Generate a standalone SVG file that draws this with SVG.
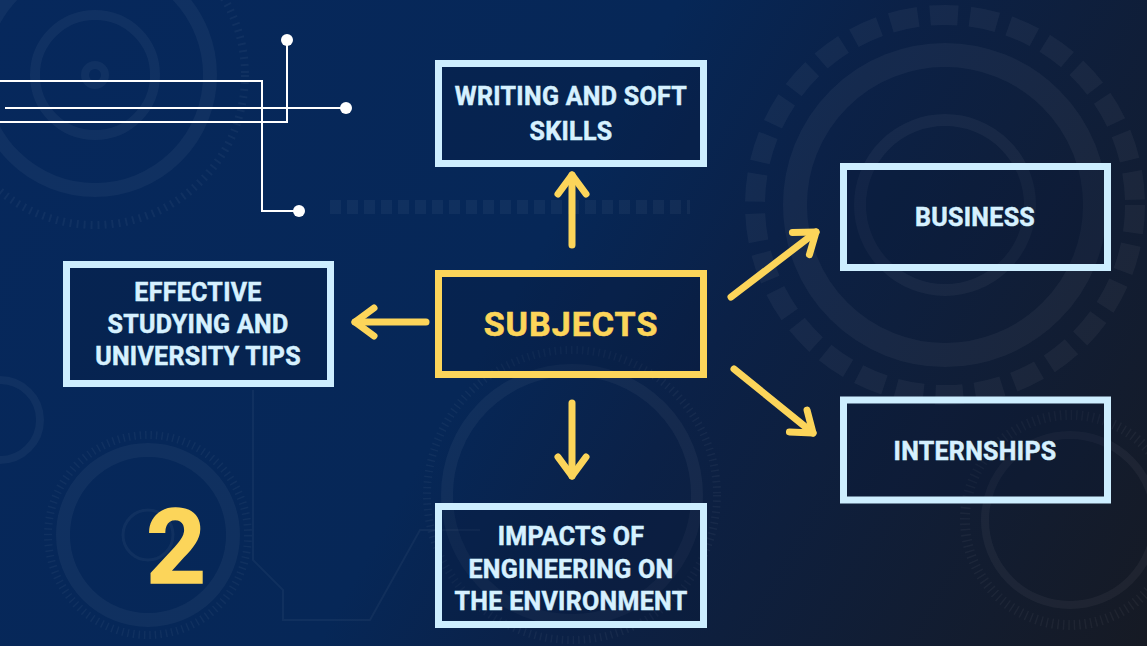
<svg xmlns="http://www.w3.org/2000/svg" width="1147" height="646" viewBox="0 0 1147 646">
<defs>
<linearGradient id="bg" x1="0" y1="0" x2="1147" y2="646" gradientUnits="userSpaceOnUse">
<stop offset="0" stop-color="#06285c"/>
<stop offset="0.45" stop-color="#062757"/>
<stop offset="0.6" stop-color="#0b2147"/>
<stop offset="1" stop-color="#161a24"/>
</linearGradient>
<marker id="chev" viewBox="-5 -5 32 38" refX="19" refY="14" markerWidth="32" markerHeight="38" markerUnits="userSpaceOnUse" orient="auto">
<path d="M0 0 L19 14 L0 28" fill="none" stroke="#fcd55a" stroke-width="7" stroke-linecap="round" stroke-linejoin="round"/>
</marker>
<style>
.box{fill:rgba(6,22,55,0.25);stroke:#cdeeff;stroke-width:7}
.main{fill:rgba(6,22,55,0.25);stroke:#fcd55a;stroke-width:7}
.lbl{font-family:Roboto,"Liberation Sans",sans-serif;font-weight:700;font-size:25px;fill:#d6f1ff;text-anchor:middle;letter-spacing:0.3px;stroke:#d6f1ff;stroke-width:0.5}
.title{font-family:Roboto,"Liberation Sans",sans-serif;font-weight:700;font-size:34px;fill:#fcd55a;text-anchor:middle;letter-spacing:1px;stroke:#fcd55a;stroke-width:0.6}
.arrow{fill:none;stroke:#fcd55a;stroke-width:7;stroke-linecap:round;stroke-linejoin:round}
.deco{fill:none;stroke:#ffffff;stroke-opacity:0.045}
.wire{fill:none;stroke:#ffffff;stroke-width:2}
</style>
</defs>
<rect width="1147" height="646" fill="url(#bg)"/>
<g id="background">
<circle class="deco" cx="95" cy="75" r="115" stroke-width="14"/>
<circle class="deco" cx="95" cy="75" r="60" stroke-width="10"/>
<circle class="deco" cx="95" cy="75" r="10" stroke-width="8"/>
<circle class="deco" cx="95" cy="75" r="150" stroke-width="8" stroke-dasharray="2 5"/>
<circle class="deco" cx="945" cy="205" r="190" stroke-width="20" stroke-dasharray="28 12"/>
<circle class="deco" cx="945" cy="205" r="150" stroke-width="24"/>
<circle class="deco" cx="945" cy="205" r="85" stroke-width="12"/>
<circle class="deco" cx="148" cy="535" r="85" stroke-width="14"/>
<circle class="deco" cx="148" cy="535" r="100" stroke-width="8" stroke-dasharray="1.5 4"/>
<circle class="deco" cx="148" cy="535" r="25" stroke-width="3"/>
<circle class="deco" cx="572" cy="495" r="125" stroke-width="12"/>
<circle class="deco" cx="572" cy="495" r="145" stroke-width="8" stroke-dasharray="1.5 4"/>
<circle class="deco" cx="1070" cy="520" r="85" stroke-width="8"/>
<circle class="deco" cx="1070" cy="520" r="105" stroke-width="10" stroke-dasharray="1.5 4"/>
<circle class="deco" cx="0" cy="420" r="40" stroke-width="8"/>
<path class="deco" d="M330 207 H690" stroke-width="14" stroke-dasharray="11 6"/>
<path class="deco" d="M253 390 V560 L283 590 V620 H370 L420 530 H480" stroke-width="2"/>
</g>
<g id="circuit">
<path class="wire" d="M0 81 H262 V211 H298"/>
<path class="wire" d="M5 108 H346"/>
<path class="wire" d="M0 122 H287 V40"/>
<circle cx="287" cy="40" r="6" fill="#ffffff"/>
<circle cx="346" cy="108" r="6" fill="#ffffff"/>
<circle cx="299" cy="211" r="6" fill="#ffffff"/>
</g>
<g id="connectors">
<path class="arrow" d="M572 245 V175" marker-end="url(#chev)"/>
<path class="arrow" d="M572 403 V476" marker-end="url(#chev)"/>
<path class="arrow" d="M426 322 H355" marker-end="url(#chev)"/>
<path class="arrow" d="M731 297 L816 232" marker-end="url(#chev)"/>
<path class="arrow" d="M734 369 L813 433" marker-end="url(#chev)"/>
</g>
<g id="node-subjects">
<rect class="main" x="438.5" y="273.5" width="265" height="101"/>
<text class="title" x="571" y="336">SUBJECTS</text>
</g>
<g id="node-writing">
<rect class="box" x="438.5" y="63.5" width="265" height="100"/>
<text class="lbl" x="571" y="105">WRITING AND SOFT</text>
<text class="lbl" x="571" y="140">SKILLS</text>
</g>
<g id="node-business">
<rect class="box" x="843.5" y="166.5" width="264" height="101"/>
<text class="lbl" x="975" y="226">BUSINESS</text>
</g>
<g id="node-internships">
<rect class="box" x="843.5" y="400" width="264" height="100"/>
<text class="lbl" x="975" y="460">INTERNSHIPS</text>
</g>
<g id="node-effective">
<rect class="box" x="66.5" y="264.5" width="264" height="119"/>
<text class="lbl" x="198" y="301">EFFECTIVE</text>
<text class="lbl" x="198" y="333">STUDYING AND</text>
<text class="lbl" x="198" y="365">UNIVERSITY TIPS</text>
</g>
<g id="node-impacts">
<rect class="box" x="438.5" y="506.5" width="265" height="118"/>
<text class="lbl" x="571" y="545">IMPACTS OF</text>
<text class="lbl" x="571" y="578">ENGINEERING ON</text>
<text class="lbl" x="571" y="610">THE ENVIRONMENT</text>
</g>
<g id="number">
<text x="176" y="583" font-family="Roboto,'Liberation Sans',sans-serif" font-weight="700" font-size="104" fill="#fcd55a" text-anchor="middle" stroke="#fcd55a" stroke-width="1.5">2</text>
</g>
</svg>
